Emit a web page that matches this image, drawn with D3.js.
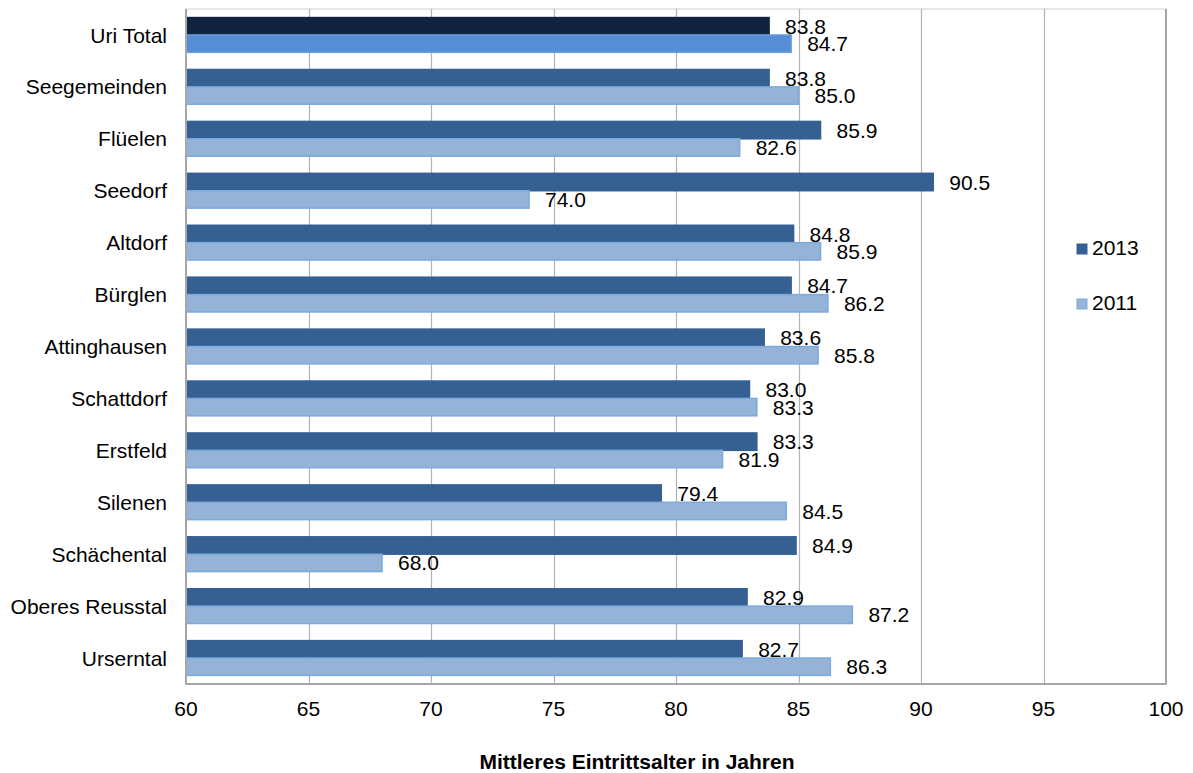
<!DOCTYPE html>
<html>
<head>
<meta charset="utf-8">
<script src="https://cdn.jsdelivr.net/npm/d3@7"></script>
<style>
  body { margin: 0; background: #fff; }
  text { font-family: "Liberation Sans", Arial, sans-serif; fill: #000; }
</style>
</head>
<body>
<script>
const categories = ["Uri Total", "Seegemeinden", "Flüelen", "Seedorf", "Altdorf", "Bürglen",
    "Attinghausen", "Schattdorf", "Erstfeld", "Silenen", "Schächental", "Oberes Reusstal", "Urserntal"];
const years = ["2013", "2011"];
const values2013 = [83.8, 83.8, 85.9, 90.5, 84.8, 84.7, 83.6, 83.0, 83.3, 79.4, 84.9, 82.9, 82.7];
const values2011 = [84.7, 85.0, 82.6, 74.0, 85.9, 86.2, 85.8, 83.3, 81.9, 84.5, 68.0, 87.2, 86.3];
const xTicks = [60, 65, 70, 75, 80, 85, 90, 95, 100];
const axisTitle = "Mittleres Eintrittsalter in Jahren";

let width = 1193,
    height = 773,
    plotLeft = 186, plotRight = 1166,
    plotTop = 9, plotBottom = 684;

let fill = {"2013": "#366092", "2011": "#95b3d7"},
    stroke = {"2013": "#366092", "2011": "#7aaade"},
    totalFill = {"2013": "#11243f", "2011": "#558ed5"},
    totalStroke = {"2013": "#11243f", "2011": "#6b9fdc"};

let x = d3.scaleLinear()
    .domain([60, 100])
    .range([plotLeft, plotRight]);

let y = d3.scaleBand()
    .domain(categories)
    .range([plotTop, plotBottom])
    .paddingInner(0.33)
    .paddingOuter(0.165);

let ySub = d3.scaleBand()
    .domain(years)
    .range([0, y.bandwidth()]);

let svg = d3.select("body").append("svg")
    .attr("width", width)
    .attr("height", height);

// rows: one entry per category with both series
let rows = categories.map((c, i) => ({
    name: c,
    vals: [
        {year: "2013", value: values2013[i], total: i === 0},
        {year: "2011", value: values2011[i], total: i === 0}
    ]
}));

// plot frame
svg.append("rect")
    .attr("x", plotLeft).attr("y", plotTop)
    .attr("width", plotRight - plotLeft).attr("height", plotBottom - plotTop)
    .attr("fill", "none")
    .attr("stroke", "#d0d0d0")
    .attr("stroke-width", 1);

// gridlines
svg.append("g").selectAll("line")
    .data(xTicks.slice(1, -1))
    .enter().append("line")
    .attr("x1", d => Math.round(x(d)) + 0.5)
    .attr("x2", d => Math.round(x(d)) + 0.5)
    .attr("y1", plotTop)
    .attr("y2", plotBottom)
    .attr("stroke", "#b3b3b3")
    .attr("stroke-width", 1.2);

// right border
svg.append("line")
    .attr("x1", plotRight).attr("x2", plotRight)
    .attr("y1", plotTop).attr("y2", plotBottom + 1)
    .attr("stroke", "#a6a6a6")
    .attr("stroke-width", 2);

// bars
let group = svg.append("g").selectAll(".row")
    .data(rows)
    .enter().append("g")
    .attr("class", "row")
    .attr("transform", d => "translate(0," + y(d.name) + ")");

group.selectAll("rect")
    .data(d => d.vals)
    .enter().append("rect")
    .attr("x", x(60))
    .attr("y", d => ySub(d.year))
    .attr("width", d => x(d.value) - x(60))
    .attr("height", ySub.bandwidth())
    .attr("fill", d => d.total ? totalFill[d.year] : fill[d.year])
    .attr("stroke", d => d.total ? totalStroke[d.year] : stroke[d.year])
    .attr("stroke-width", 1.5);

group.selectAll(".lbl")
    .data(d => d.vals)
    .enter().append("text")
    .attr("class", "lbl")
    .attr("x", d => x(d.value) + 16)
    .attr("y", d => ySub(d.year) + ySub.bandwidth() / 2)
    .attr("dy", "0.36em")
    .style("font-size", "21px")
    .text(d => d3.format(".1f")(d.value));

// axes lines
svg.append("line")
    .attr("x1", plotLeft).attr("x2", plotLeft)
    .attr("y1", plotTop).attr("y2", plotBottom + 1)
    .attr("stroke", "#a6a6a6")
    .attr("stroke-width", 2);

svg.append("line")
    .attr("x1", plotLeft - 1).attr("x2", plotRight + 1)
    .attr("y1", plotBottom).attr("y2", plotBottom)
    .attr("stroke", "#a6a6a6")
    .attr("stroke-width", 2);

// category labels
svg.append("g").selectAll("text")
    .data(categories)
    .enter().append("text")
    .attr("x", 167)
    .attr("y", d => y(d) + y.bandwidth() / 2)
    .attr("dy", "0.36em")
    .attr("text-anchor", "end")
    .style("font-size", "21px")
    .text(d => d);

// x tick labels
svg.append("g").selectAll("text")
    .data(xTicks)
    .enter().append("text")
    .attr("x", d => x(d))
    .attr("y", 716)
    .attr("text-anchor", "middle")
    .style("font-size", "21px")
    .text(d => d);

// axis title
svg.append("text")
    .attr("x", 637)
    .attr("y", 769)
    .attr("text-anchor", "middle")
    .style("font-size", "21px")
    .style("font-weight", "bold")
    .text(axisTitle);

// legend
let legend = svg.append("g").selectAll(".legend")
    .data(years)
    .enter().append("g")
    .attr("class", "legend")
    .attr("transform", (d, i) => "translate(1077," + (244 + i * 55) + ")");

legend.append("rect")
    .attr("width", 10)
    .attr("height", 10)
    .attr("fill", d => fill[d])
    .attr("stroke", d => stroke[d])
    .attr("stroke-width", 1);

legend.append("text")
    .attr("x", 15)
    .attr("y", 11)
    .style("font-size", "21px")
    .text(d => d);
</script>
</body>
</html>
